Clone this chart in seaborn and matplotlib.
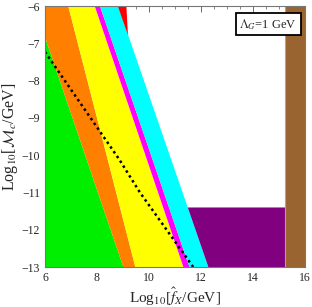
import numpy as np
import matplotlib
matplotlib.use("Agg")
import matplotlib.pyplot as plt
import seaborn as sns

# Band edges: x position at the top (y=-6) and bottom (y=-13) of the plot
edge_y = [-6, -13]
green_orange = [5.58, 9.0]
orange_yellow = [6.88, 9.46]
yellow_magenta = [7.9, 11.31]
magenta_cyan = [8.1, 11.54]
cyan_right = [8.8, 12.27]

# Small red wedge at the top
red_x = [8.8, 9.13, 9.19]
red_y = [-6, -6, -6.78]

# Purple block and brown strip
purple_top = -11.39
purple_right = 15.23
brown_left = 15.23

# Dotted line
dot_x = [6.0, 6.76, 8.87, 9.65, 11.7]
dot_y = [-7.23, -8.0, -10.13, -11.0, -13.0]

xticks = [6, 8, 10, 12, 14, 16]
yticks = [-13, -12, -11, -10, -9, -8, -7, -6]

sns.set_style("ticks")
plt.rcParams['font.family'] = ['Liberation Serif', 'DejaVu Serif']
plt.rcParams['mathtext.fontset'] = 'stix'

fig = plt.figure(figsize=(3.12, 3.07), dpi=100)
ax = fig.add_axes([45/312, 40/307, 260/312, 261/307])

ys = np.array(edge_y, dtype=float)
left = np.array([6, 6], dtype=float)
ax.fill_betweenx(ys, left, green_orange, color='#00ee00', lw=0)
ax.fill_betweenx(ys, green_orange, orange_yellow, color='#ff8000', lw=0)
ax.fill_betweenx(ys, orange_yellow, yellow_magenta, color='#ffff00', lw=0)
ax.fill_betweenx(ys, yellow_magenta, magenta_cyan, color='#ff00ff', lw=0)
ax.fill_betweenx(ys, magenta_cyan, cyan_right, color='#00ffff', lw=0)
ax.fill(red_x, red_y, color='#ff0000', lw=0)

# purple: from the cyan edge to purple_right, below purple_top
py = np.linspace(-13, purple_top, 20)
cx = np.interp(py, ys[::-1], np.array(cyan_right)[::-1])
ax.fill_betweenx(py, cx, purple_right, color='#800080', lw=0)

ax.axvspan(brown_left, 16, color='#9a6431', lw=0)
ax.axvline(brown_left, color='#c8a070', lw=0.8)

ax.plot(dot_x, dot_y, color='black', lw=1.8, linestyle=(0, (1, 1.3)))

ax.set_xlim(6, 16)
ax.set_ylim(-13, -6)
ax.set_xticks(xticks)
ax.set_yticks(yticks)
ax.set_yticklabels(["\u2212" + str(abs(t)) for t in yticks])
ax.set_xticks(np.arange(6, 16.01, 0.5), minor=True)
ax.set_yticks(np.arange(-13, -5.99, 0.2), minor=True)
ax.tick_params(which='both', direction='in', top=True, right=True,
               labelsize=8.5, color='#555555')
ax.tick_params(which='major', length=4, width=0.6)
ax.tick_params(which='minor', length=2, width=0.5)
for s in ax.spines.values():
    s.set_linewidth(0.8)
    s.set_color('#777777')

ax.set_xlabel(r"Log$_{10}$[$\hat{f}_{X}$/GeV]", fontsize=11, labelpad=1)
ax.set_ylabel(r"Log$_{10}$[$\mathcal{M}_c$/GeV]", fontsize=11.5, labelpad=1)

ax.text(0.97, 0.93, r"$\Lambda_G$=1 GeV", transform=ax.transAxes,
        ha='right', va='center', fontsize=9,
        bbox=dict(boxstyle='square,pad=0.3', fc='white', ec='black', lw=1.3))

fig.savefig("out.png", dpi=100)
